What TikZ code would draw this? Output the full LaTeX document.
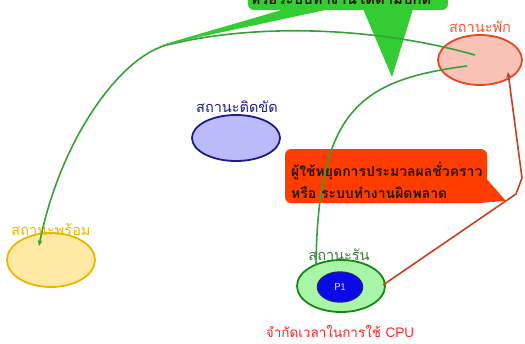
\documentclass[tikz,border=0pt]{standalone}
\usepackage{fontspec}
\setmainfont{Liberation Sans}
\newfontfamily\thai[Script=Thai]{Loma}
\usetikzlibrary{shapes.geometric,arrows.meta}

\definecolor{restfill}{HTML}{F9C2B6}
\definecolor{restdraw}{HTML}{E8461F}
\definecolor{restlabel}{HTML}{FF5533}
\definecolor{blockfill}{HTML}{BBBBFA}
\definecolor{blockdraw}{HTML}{1C1C8A}
\definecolor{readyfill}{HTML}{FFE9A3}
\definecolor{readydraw}{HTML}{E8B800}
\definecolor{runfill}{HTML}{A8F5A8}
\definecolor{rundraw}{HTML}{138A13}
\definecolor{runlabel}{HTML}{3C7A3C}
\definecolor{procfill}{HTML}{0A0AE6}
\definecolor{calloutorange}{HTML}{FF3D00}
\definecolor{calloutgreen}{HTML}{33CC33}
\definecolor{linkgreen}{HTML}{38A038}
\definecolor{linkred}{HTML}{C8401E}
\definecolor{limitred}{HTML}{FF2222}
\definecolor{callouttext}{HTML}{2A1400}

\tikzset{
  state/.style={ellipse, inner sep=0pt, line width=1.8pt},
  statelabel/.style={inner sep=0pt, font=\thai\fontsize{14.5}{16}\selectfont},
  callouttxt/.style={inner sep=0pt, font=\thai\bfseries\fontsize{14}{16}\selectfont, text=callouttext},
  link/.style={line width=1.6pt},
  tip/.style={-{Stealth[length=6pt,width=5pt]}}
}

\begin{document}
\begin{tikzpicture}[x=1pt,y=-1pt]
\useasboundingbox (0,0) rectangle (525,343);

% process states
\node[state, fill=restfill, draw=restdraw, minimum width=84pt, minimum height=50pt] (rest) at (480,60) {};
\node[statelabel, text=restlabel] (restlbl) at (480,27) {สถานะพัก};

\node[state, fill=blockfill, draw=blockdraw, minimum width=88pt, minimum height=46pt] (blocked) at (236,138) {};
\node[statelabel, text=blockdraw] (blockedlbl) at (237,107) {สถานะติดขัด};

\node[state, fill=readyfill, draw=readydraw, minimum width=88pt, minimum height=54pt] (ready) at (51,260) {};
\node[statelabel, text=readydraw] (readylbl) at (51,229) {สถานะพร้อม};

\node[state, fill=runfill, draw=rundraw, minimum width=88pt, minimum height=52pt] (running) at (341,286) {};
\node[statelabel, text=runlabel] (runninglbl) at (339,255) {สถานะรัน};
\node[state, fill=procfill, draw=blockdraw, line width=1.4pt, minimum width=45pt, minimum height=30pt,
      text=white, font=\sffamily\fontsize{10}{11}\selectfont] (p1) at (340,287) {P1};

\node[inner sep=0pt, text=limitred, font=\thai\fontsize{13.5}{15}\selectfont] (limit) at (340,331) {จำกัดเวลาในการใช้ CPU};

% callout: normal completion
\fill[calloutgreen, rounded corners=6pt] (248,-30) rectangle (448,10);
\fill[calloutgreen] (285,9) -- (158,46) -- (330,9) -- cycle;
\fill[calloutgreen] (363,9) -- (392,77) -- (413,9) -- cycle;
\node[callouttxt, font=\thai\bfseries\fontsize{15}{17}\selectfont] (donetxt) at (341,-2) {หรือระบบทำงานได้ตามปกติ};

% callout: suspended or error
\fill[calloutorange, rounded corners=6pt] (285,149) rectangle (487,203);
\fill[calloutorange] (484,176) -- (506,201) -- (476,203) -- cycle;
\node[callouttxt, anchor=west] (err1) at (291,171) {ผู้ใช้หยุดการประมวลผลชั่วคราว};
\node[callouttxt, anchor=west] (err2) at (291,193) {หรือ ระบบทำงานผิดพลาด};

% transitions
\coordinate (a0) at (475,55);
\coordinate (a1) at (167,45);
\coordinate (a2) at (39,246);
\draw[link, linkgreen, tip] (a0) .. controls (380,28) and (260,22) .. (a1)
  .. controls (120,57) and (60,140) .. (a2);

\coordinate (b0) at (467,66);
\coordinate (b1) at (316,265);
\draw[link, linkgreen] (b0) .. controls (360,80) and (318,110) .. (b1);

\coordinate (c0) at (383,285);
\coordinate (c1) at (516,194);
\coordinate (c2) at (522,178);
\coordinate (c3) at (508,72);
\draw[link, linkred, tip] (c0) -- (c1) -- (c2) -- (c3);
\end{tikzpicture}
\end{document}
